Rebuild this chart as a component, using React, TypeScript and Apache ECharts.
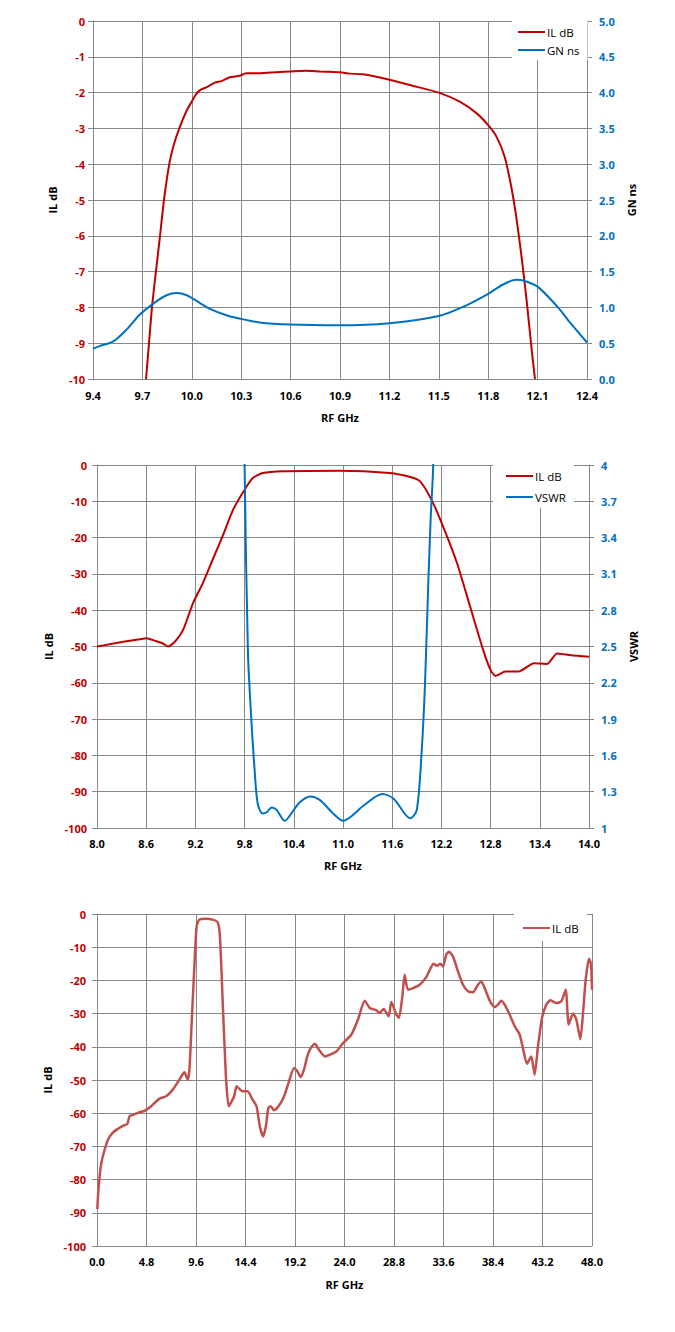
import React, { useEffect, useRef } from "react";
import * as echarts from "echarts";

// ---------- Chart 1: IL dB & GN ns, 9.4–12.4 GHz ----------
const c1Ticks = { xMin: 9.4, xMax: 12.4, xStep: 0.3 };
const c1IlFreq = [9.722, 9.74, 9.758, 9.782, 9.807, 9.831, 9.863, 9.888, 9.924, 9.969, 10.0, 10.025, 10.05, 10.09, 10.14, 10.18, 10.23, 10.29, 10.33, 10.41, 10.515, 10.6, 10.69, 10.78, 10.84, 10.9, 10.96, 11.04, 11.2, 11.325, 11.5, 11.63, 11.73, 11.8, 11.85, 11.9, 11.94, 11.97, 12.0, 12.033, 12.064, 12.084];
const c1Il = [-10, -9, -8, -7, -6, -5, -4, -3.5, -3, -2.5, -2.25, -2.05, -1.93, -1.85, -1.72, -1.68, -1.57, -1.53, -1.46, -1.46, -1.43, -1.41, -1.39, -1.41, -1.42, -1.43, -1.47, -1.49, -1.64, -1.79, -2.0, -2.26, -2.58, -2.91, -3.23, -3.79, -4.63, -5.46, -6.49, -7.79, -9.18, -10];
const c1GnFreq = [9.4, 9.44, 9.523, 9.604, 9.685, 9.77, 9.847, 9.908, 9.969, 10.05, 10.11, 10.21, 10.3, 10.41, 10.6, 10.9, 11.2, 11.5, 11.65, 11.8, 11.89, 11.97, 12.02, 12.1, 12.22, 12.3, 12.4];
const c1Gn = [0.42, 0.46, 0.525, 0.69, 0.9, 1.06, 1.17, 1.2, 1.17, 1.06, 0.98, 0.89, 0.84, 0.79, 0.76, 0.75, 0.78, 0.88, 1.01, 1.19, 1.32, 1.385, 1.37, 1.29, 1.01, 0.78, 0.51];

// ---------- Chart 2: IL dB & VSWR, 8–14 GHz ----------
const c2Ticks = { xMin: 8.0, xMax: 14.0, xStep: 0.6, vMin: 1, vMax: 4, vStep: 0.3 };
const c2IlFreq = [8.0, 8.15, 8.32, 8.52, 8.6, 8.72, 8.8, 8.866, 8.95, 9.05, 9.17, 9.29, 9.41, 9.53, 9.66, 9.8, 9.9, 10.02, 10.27, 10.96, 11.57, 11.82, 11.94, 12.08, 12.22, 12.39, 12.55, 12.71, 12.8, 12.86, 12.98, 13.14, 13.33, 13.49, 13.61, 13.78, 14.0];
const c2Il = [-50, -49.4, -48.7, -48.0, -47.7, -48.5, -49.1, -50.0, -48.7, -45.4, -38.1, -32.6, -26.1, -19.7, -12.3, -6.8, -3.6, -2.2, -1.7, -1.55, -2.2, -3.3, -4.5, -9.6, -16.9, -27, -39, -51, -56.5, -58.1, -56.9, -56.9, -54.6, -54.8, -51.9, -52.4, -52.8];
const c2VswrFreq = [9.79, 9.8, 9.84, 9.88, 9.92, 9.96, 10.02, 10.07, 10.13, 10.19, 10.29, 10.37, 10.47, 10.6, 10.72, 10.88, 11.0, 11.26, 11.48, 11.62, 11.82, 11.9, 11.96, 12.0, 12.04, 12.07, 12.1, 12.11];
const c2Vswr = [5, 4.0, 2.47, 1.92, 1.5, 1.2, 1.12, 1.13, 1.17, 1.15, 1.06, 1.12, 1.21, 1.26, 1.23, 1.12, 1.06, 1.19, 1.28, 1.24, 1.08, 1.15, 1.64, 2.19, 3.02, 3.57, 4.0, 5];

// ---------- Chart 3: IL dB, 0–48 GHz ----------
const c3Freq = [0.03, 0.16, 0.42, 0.74, 1.06, 1.55, 2.03, 2.51, 2.93, 3.16, 3.48, 4.12, 4.6, 5.25, 6.06, 6.7, 7.35, 7.99, 8.47, 8.8, 8.96, 9.21, 9.44, 9.66, 9.92, 10.57, 11.21, 11.7, 11.92, 12.18, 12.5, 12.76, 12.98, 13.3, 13.53, 13.79, 14.11, 14.6, 15.08, 15.47, 15.79, 16.11, 16.37, 16.62, 16.85, 17.17, 17.65, 18.14, 18.62, 19.1, 19.43, 19.75, 20.07, 20.39, 20.72, 21.13, 21.52, 22.1, 22.57, 23.21, 23.86, 24.67, 25.31, 25.96, 26.44, 27.09, 27.41, 27.8, 28.28, 28.54, 29.03, 29.28, 29.61, 29.83, 30.15, 30.64, 31.29, 31.93, 32.64, 32.97, 33.29, 33.55, 33.87, 34.13, 34.52, 35.0, 35.49, 35.97, 36.46, 36.94, 37.27, 37.59, 38.07, 38.56, 38.88, 39.2, 39.53, 40.01, 40.5, 40.98, 41.3, 41.69, 42.11, 42.44, 42.76, 43.15, 43.57, 43.96, 44.54, 45.03, 45.45, 45.74, 46.16, 46.48, 46.87, 47.13, 47.39, 47.71, 47.9, 48.0];
const c3Il = [-88.9, -82.1, -75, -71, -68, -65.8, -64.7, -63.8, -63.3, -60.9, -60.5, -59.7, -59.3, -57.9, -55.6, -54.9, -52.9, -49.9, -47.7, -49.9, -46.9, -30.8, -15.8, -3.7, -1.7, -1.4, -1.7, -2.5, -6.7, -25.8, -48.9, -57.9, -56.9, -54.9, -51.9, -52.6, -53.4, -53.4, -55.9, -57.9, -64, -67, -64, -58.4, -57.9, -59.1, -57.7, -54.9, -50.4, -46.4, -47.4, -49.1, -46.9, -42.9, -40.4, -39.1, -40.9, -42.9, -42.4, -41.4, -38.9, -36.3, -31.8, -26.1, -28.3, -29.0, -29.8, -28.6, -30.8, -26.5, -30.3, -31.3, -24.8, -18.3, -22.8, -22.3, -21.3, -19.0, -15.0, -15.6, -15.0, -15.8, -12.2, -11.4, -12.8, -17.3, -21.3, -23.3, -23.6, -21.3, -20.3, -22.3, -26.0, -28.0, -27.3, -26.1, -27.3, -30.3, -33.8, -36.3, -40.4, -45.1, -42.9, -48.4, -39.9, -31.3, -27.3, -26.0, -26.8, -26.3, -22.8, -33.3, -30.0, -31.8, -37.7, -29.8, -19.8, -13.5, -15, -22.8];

const FONT = "Open Sans";
const GRID = "#878787";
const RED = "#c00000";
const BLUE = "#0070c0";
const RED3 = "#c0504d";

const bold = { fontFamily: FONT, fontWeight: "bold" as const, fontSize: 11 };

function xAxisCfg(min: number, max: number, step: number, offset: number, nameGap: number, margin: number) {
  return {
    type: "value",
    min: 0,
    max: max - min,
    interval: step,
    name: "RF GHz",
    nameLocation: "middle",
    nameGap,
    nameTextStyle: { ...bold, color: "#000" },
    axisLine: { show: true, lineStyle: { color: GRID, width: 1 } },
    axisTick: { show: true, length: 5, lineStyle: { color: GRID } },
    splitLine: { show: true, lineStyle: { color: GRID, width: 1 } },
    axisLabel: { ...bold, color: "#000", margin, formatter: (v: number) => (v + offset).toFixed(1) },
  };
}

function yAxisCfg(opts: any) {
  return {
    type: "value",
    nameLocation: "middle",
    nameRotate: 90,
    nameTextStyle: { ...bold, color: "#000" },
    axisLine: { show: true, lineStyle: { color: GRID, width: 1 } },
    axisTick: { show: true, length: 5, lineStyle: { color: GRID } },
    splitLine: { show: opts.split, lineStyle: { color: GRID, width: 1 } },
    ...opts.rest,
  };
}

function legendCfg(left: number, top: number, names: string[], padding: number[], gap: number) {
  return {
    orient: "vertical",
    left,
    top,
    data: names,
    icon: "rect",
    backgroundColor: "#fff",
    padding,
    itemWidth: 27,
    itemHeight: 2,
    itemGap: gap,
    textStyle: { fontFamily: FONT, fontSize: 11.5, lineHeight: 14, color: "#000", padding: [0, 0, 0, -3] },
  };
}

function lineSeries(name: string, data: number[][], color: string, yAxisIndex: number, width: number, smooth: number) {
  return {
    type: "line",
    name,
    data,
    yAxisIndex,
    symbol: "none",
    smooth,
    clip: true,
    lineStyle: { color, width },
    itemStyle: { color },
  };
}

function option1() {
  const off = c1Ticks.xMin;
  return {
    animation: false,
    grid: { left: 93, top: 21, width: 494, height: 358 },
    legend: legendCfg(512, 21, ["IL dB", "GN ns"], [4, 8, 3, 6], 4),
    xAxis: xAxisCfg(c1Ticks.xMin, c1Ticks.xMax, c1Ticks.xStep, off, 33, 11),
    yAxis: [
      yAxisCfg({
        split: true,
        rest: {
          position: "left", min: -10, max: 0, interval: 1, name: "IL dB", nameGap: 34,
          axisLabel: { ...bold, color: RED, margin: 8 },
        },
      }),
      yAxisCfg({
        split: false,
        rest: {
          position: "right", min: 0, max: 5, interval: 0.5, name: "GN ns", nameGap: 37,
          axisLabel: { ...bold, color: BLUE, margin: 12, formatter: (v: number) => v.toFixed(1) },
        },
      }),
    ],
    series: [
      lineSeries("IL dB", c1IlFreq.map((f, i) => [f - off, c1Il[i]]), RED, 0, 2, 0.2),
      lineSeries("GN ns", c1GnFreq.map((f, i) => [f - off, c1Gn[i]]), BLUE, 1, 2, 0.3),
    ],
  };
}

function option2() {
  const off = c2Ticks.xMin;
  const vOff = c2Ticks.vMin;
  return {
    animation: false,
    grid: { left: 97, top: 25, width: 492, height: 363 },
    legend: legendCfg(493, 25, ["IL dB", "VSWR"], [4, 8, 4, 13], 7),
    xAxis: xAxisCfg(c2Ticks.xMin, c2Ticks.xMax, c2Ticks.xStep, off, 32, 10),
    yAxis: [
      yAxisCfg({
        split: true,
        rest: {
          position: "left", min: -100, max: 0, interval: 10, name: "IL dB", nameGap: 40,
          axisLabel: { ...bold, color: RED, margin: 10 },
        },
      }),
      yAxisCfg({
        split: false,
        rest: {
          position: "right", min: 0, max: c2Ticks.vMax - vOff, interval: c2Ticks.vStep, name: "VSWR", nameGap: 36,
          axisLabel: { ...bold, color: BLUE, margin: 12, formatter: (v: number) => String(Math.round((v + vOff) * 10) / 10) },
        },
      }),
    ],
    series: [
      lineSeries("IL dB", c2IlFreq.map((f, i) => [f - off, c2Il[i]]), RED, 0, 2, 0.2),
      lineSeries("VSWR", c2VswrFreq.map((f, i) => [f - off, c2Vswr[i] - vOff]), BLUE, 1, 2, 0.3),
    ],
  };
}

function option3() {
  return {
    animation: false,
    grid: { left: 97, top: 34, width: 495, height: 332 },
    legend: legendCfg(514, 34, ["IL dB"], [7, 8, 6, 9], 4),
    xAxis: xAxisCfg(0, 48, 4.8, 0, 33, 10),
    yAxis: [
      yAxisCfg({
        split: true,
        rest: {
          position: "left", min: -100, max: 0, interval: 10, name: "IL dB", nameGap: 41,
          axisLabel: { ...bold, color: RED, margin: 11 },
        },
      }),
    ],
    series: [lineSeries("IL dB", c3Freq.map((f, i) => [f, c3Il[i]]), RED3, 0, 2.5, 0.2)],
  };
}

function Chart({ top, height, option }: { top: number; height: number; option: any }) {
  const ref = useRef<HTMLDivElement>(null);
  useEffect(() => {
    if (!ref.current) return;
    const chart = echarts.init(ref.current, undefined, { renderer: "svg" });
    chart.setOption(option);
    return () => chart.dispose();
  }, []);
  return <div ref={ref} style={{ position: "absolute", left: 0, top, width: 675, height }} />;
}

export default function App() {
  return (
    <div style={{ position: "absolute", left: 0, top: 0, width: 675, height: 1332, background: "#fff" }}>
      <Chart top={0} height={440} option={option1()} />
      <Chart top={440} height={440} option={option2()} />
      <Chart top={880} height={452} option={option3()} />
    </div>
  );
}
